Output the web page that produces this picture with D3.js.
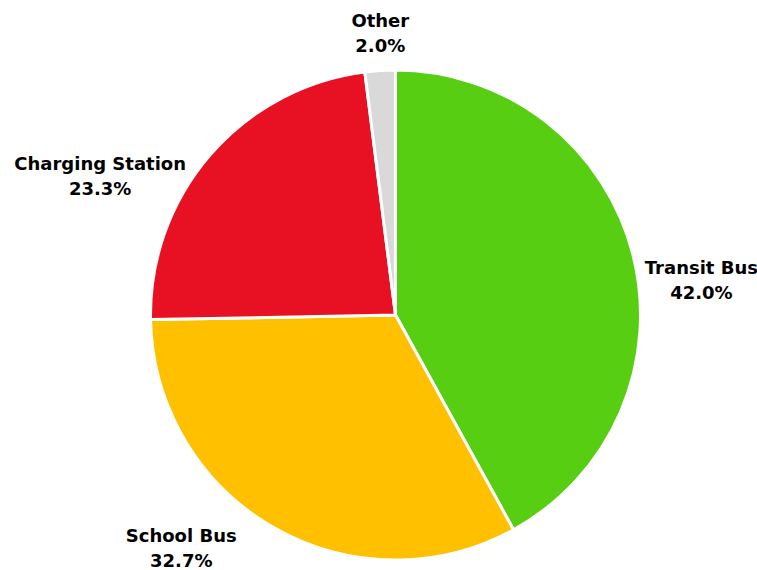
<!DOCTYPE html>
<html>
<head>
<meta charset="utf-8">
<script src="https://cdn.jsdelivr.net/npm/d3@7"></script>
<style>
  body { margin: 0; background: #fff; }
  .p-label { font-family: "DejaVu Sans", sans-serif; font-weight: bold; font-size: 18px; fill: #000; }
</style>
</head>
<body>
<svg id="chart" width="757" height="570"></svg>
<script>
// chart data
const categories = ["Transit Bus", "School Bus", "Charging Station", "Other"];
const shares = [42.0, 32.7, 23.3, 2.0];
const colors = ["#57CE12", "#FFC000", "#E81123", "#D9D9D9"];

const width = 757, height = 570;
const cx = 395.5, cy = 315, radius = 245;

// label nudges (pixels) away from the label arc point, excel "best fit" style
const labelNudge = {
    "Transit Bus": [25, 36],
    "School Bus": [-69, -19],
    "Charging Station": [-76, 50],
    "Other": [3, 6]
};

const data = categories.map((c, i) => ({ name: c, value: shares[i], color: colors[i] }));

const svg = d3.select("#chart");

const pie = d3.pie()
    .value(d => d.value)
    .sort(null);

const arc = d3.arc()
    .innerRadius(0)
    .outerRadius(radius);

const labelArc = d3.arc()
    .innerRadius(290)
    .outerRadius(290);

let g = svg.append("g")
    .attr("transform", `translate(${cx},${cy})`);

g.selectAll("path")
    .data(pie(data))
  .join("path")
    .attr("d", arc)
    .attr("fill", d => d.data.color)
    .attr("stroke", "#fff")
    .attr("stroke-width", 3)
    .attr("stroke-linejoin", "round");

//labels
let labels = g.selectAll("text")
    .data(pie(data))
  .join("text")
    .attr("class", "p-label")
    .attr("text-anchor", "middle")
    .attr("transform", d => {
        let [x, y] = labelArc.centroid(d);
        let n = labelNudge[d.data.name];
        return `translate(${x + n[0]},${y + n[1]})`;
    });

labels.append("tspan")
    .attr("x", 0)
    .attr("y", -5)
    .text(d => d.data.name);

labels.append("tspan")
    .attr("x", 0)
    .attr("y", 20)
    .text(d => d.data.value.toFixed(1) + "%");
</script>
</body>
</html>
